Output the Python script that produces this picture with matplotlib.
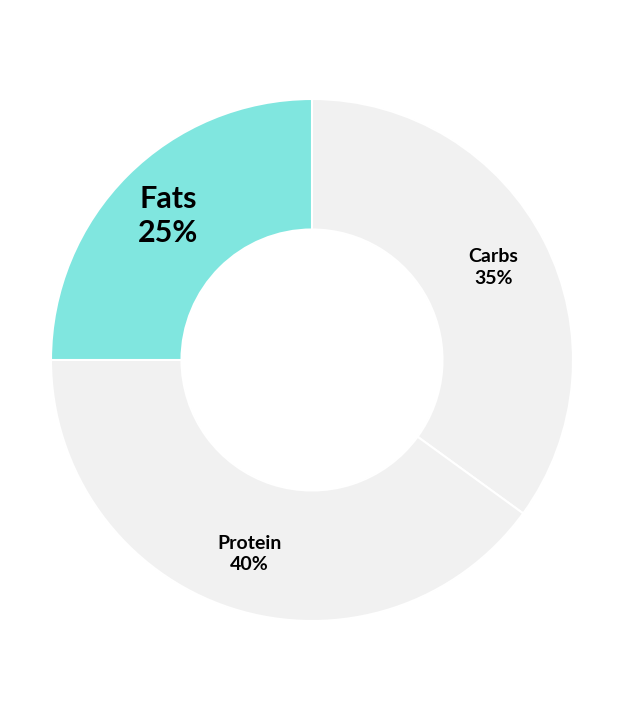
import matplotlib
matplotlib.use("Agg")
import matplotlib.pyplot as plt
import numpy as np

# macro split
labels = ["Carbs", "Protein", "Fats"]
shares = [35, 40, 25]
colors = ["#f1f1f1", "#f1f1f1", "#80e6df"]
label_sizes = [14, 14, 22]

plt.rcParams['font.family'] = ['Lato', 'DejaVu Sans']

fig = plt.figure(figsize=(6.24, 7.2), dpi=100)
ax = fig.add_axes([0, 0, 1, 1])

outer_r = 1.0
hole = 0.50
wedges, _ = ax.pie(shares, radius=outer_r, startangle=90, counterclock=False,
                   colors=colors,
                   wedgeprops=dict(width=outer_r - hole, edgecolor='white', linewidth=1.5))

# labels sit in the middle of each ring segment (a bit outward)
for w, lab, val, fs in zip(wedges, labels, shares, label_sizes):
    mid = np.radians((w.theta1 + w.theta2) / 2)
    r = 0.78
    ax.text(r * np.cos(mid), r * np.sin(mid), f"{lab}\n{val}%",
            ha='center', va='center', fontsize=fs, fontweight='bold',
            color='black', linespacing=1.3)

# frame the ring like the original (center at fig middle, radius 261px)
ax.set_xlim(-312 / 261, 312 / 261)
ax.set_ylim(-360 / 261, 360 / 261)
ax.set_aspect('auto')
ax.axis('off')

fig.savefig("out.png", dpi=100, facecolor='white')
